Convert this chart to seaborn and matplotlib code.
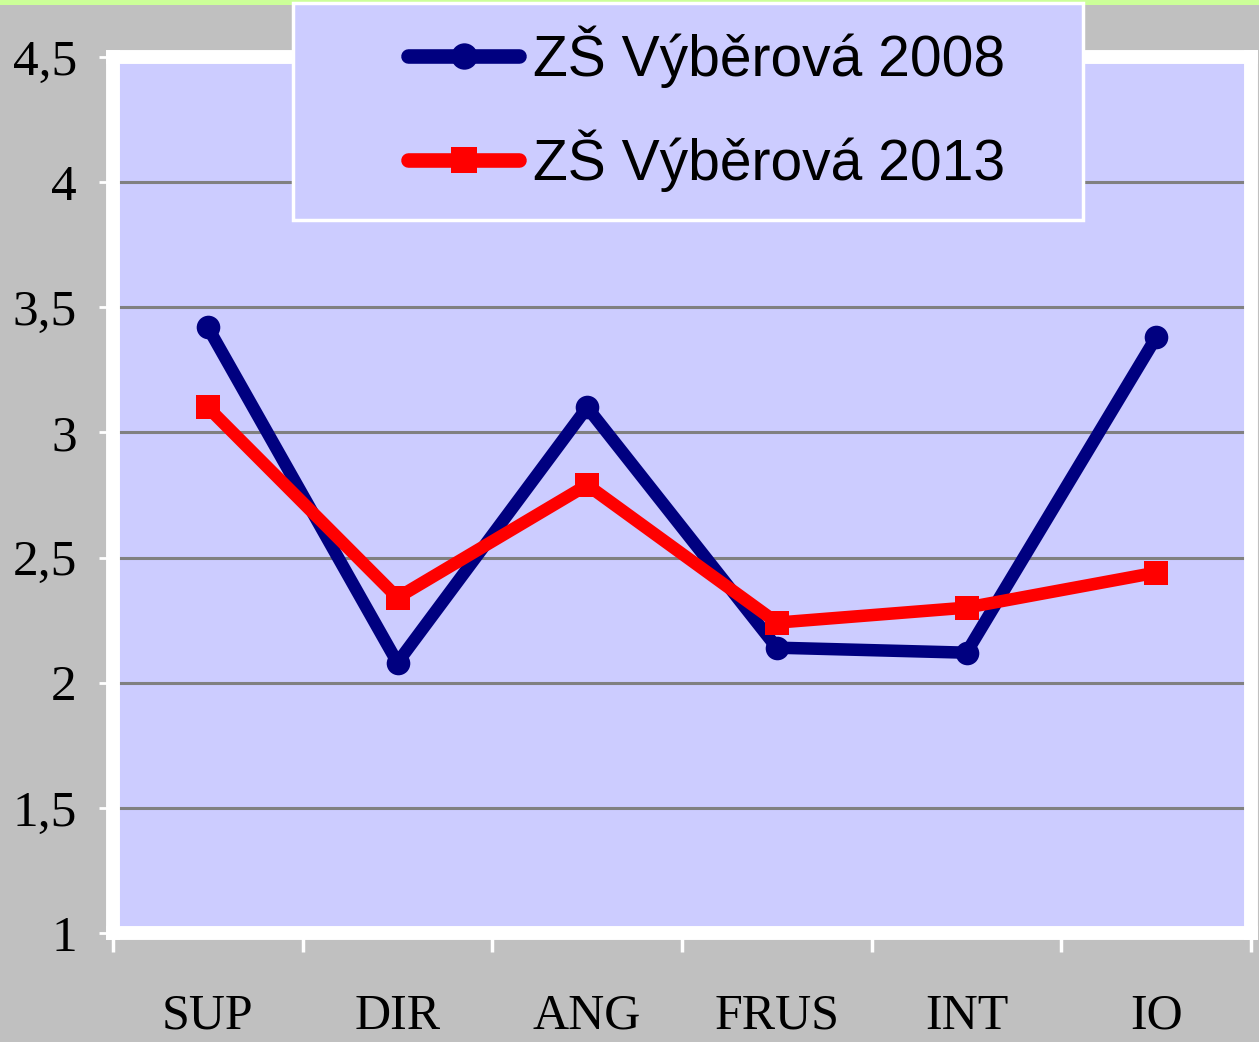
import matplotlib
matplotlib.use("Agg")
import matplotlib.pyplot as plt
from matplotlib.patches import Rectangle
import seaborn as sns
import pandas as pd

# values
categories = ["SUP", "DIR", "ANG", "FRUS", "INT", "IO"]
vals_2008 = [3.42, 2.08, 3.10, 2.14, 2.12, 3.38]
vals_2013 = [3.10, 2.34, 2.79, 2.24, 2.30, 2.44]
series = ["ZŠ Výběrová 2008", "ZŠ Výběrová 2013"]
yticks = [1, 1.5, 2, 2.5, 3, 3.5, 4, 4.5]
ytick_labels = ["1", "1,5", "2", "2,5", "3", "3,5", "4", "4,5"]

df = pd.DataFrame({
    "cat": categories * 2,
    "val": vals_2008 + vals_2013,
    "series": [series[0]] * len(categories) + [series[1]] * len(categories),
})

sns.set_style("white")
W, H = 1259, 1042
fig = plt.figure(figsize=(W / 100, H / 100), dpi=100, facecolor="#c0c0c0")
ax = fig.add_axes([113 / W, 109 / H, 1138 / W, 876 / H])
ax.set_facecolor("#ccccff")

# green strip along the top edge
fig.patches.append(Rectangle((0, 1 - 5 / H), 1, 5 / H, transform=fig.transFigure,
                             facecolor="#ccff99", edgecolor="none", zorder=0))

ax.yaxis.grid(True, color="#808080", linewidth=2.2, zorder=0)
ax.set_axisbelow(True)

sns.lineplot(data=df, x="cat", y="val", hue="series", style="series",
             palette=["#000080", "#ff0000"], markers=["o", "s"], dashes=False,
             linewidth=9, markersize=17, markeredgewidth=0, ax=ax, sort=False)

ax.set_xlim(-0.5, 5.5)
ax.set_ylim(1, 4.5)
ax.set_xlabel("")
ax.set_ylabel("")

for s in ax.spines.values():
    s.set_color("white")
    s.set_linewidth(10)

ax.set_yticks(yticks)
ax.set_yticklabels(ytick_labels)
ax.set_xticks(range(len(categories)))
ax.set_xticklabels(categories)
ax.set_xticks([i - 0.5 for i in range(len(categories) + 1)], minor=True)
ax.tick_params(axis="x", which="major", bottom=False, pad=40, labelsize=36, labelcolor="black")
ax.tick_params(axis="x", which="minor", bottom=True, length=14, width=2.5, color="white", direction="out")
ax.tick_params(axis="y", which="major", left=True, length=10, width=2, color="white", pad=16,
               labelsize=37, labelcolor="black")
for lab in ax.get_xticklabels() + ax.get_yticklabels():
    lab.set_family("Liberation Serif")

# legend box
fig.patches.append(Rectangle((293 / W, 1 - 220 / H), 790 / W, 217 / H, transform=fig.transFigure,
                             facecolor="#ccccff", edgecolor="white", linewidth=2.5, zorder=3))

handles, labels = ax.get_legend_handles_labels()
ax.get_legend().remove()
leg = fig.legend(handles, labels, loc="center left", bbox_to_anchor=(408 / W, 1 - 108.5 / H),
                 frameon=False, handlelength=1.95, handletextpad=0.25, labelspacing=0.72,
                 borderpad=0, borderaxespad=0,
                 prop={"family": ["Liberation Sans Narrow", "Liberation Sans"], "size": 41})
leg.set_zorder(4)
for t in leg.get_texts():
    t.set_color("black")
for h in leg.get_lines():
    h.set_linewidth(10.5)
    h.set_markersize(19)

fig.savefig("out.png", dpi=100, facecolor=fig.get_facecolor())
